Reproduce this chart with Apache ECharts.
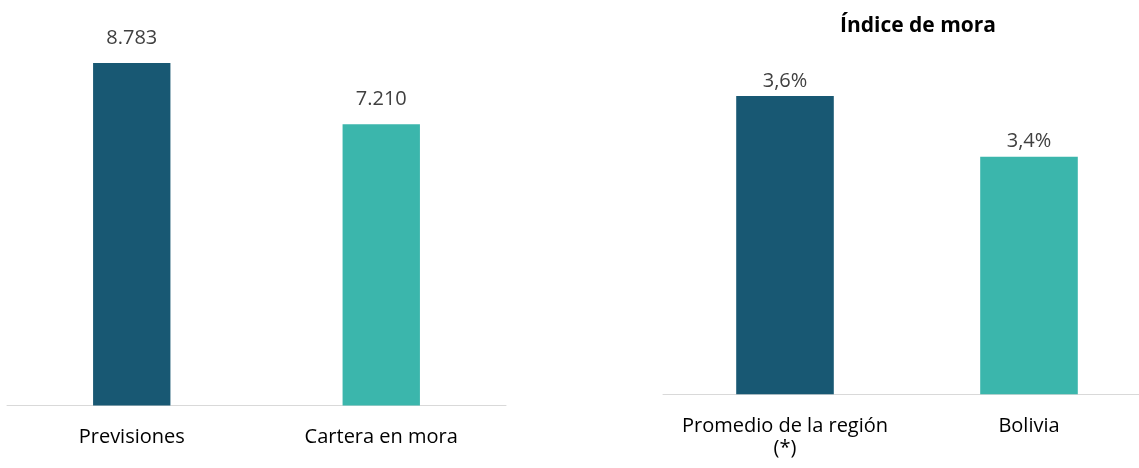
<!DOCTYPE html>
<html>
<head>
<meta charset="utf-8">
<script src="https://cdn.jsdelivr.net/npm/echarts@6/dist/echarts.min.js"></script>
<style>
  html, body { margin: 0; padding: 0; background: #fff; }
  #main { width: 1139px; height: 468px; }
</style>
</head>
<body>
<div id="main"></div>
<script>
// 数据
const leftCategories = ["Previsiones", "Cartera en mora"];
const leftValues = [8783, 7210];
const rightTitle = "Índice de mora";
const rightCategories = ["Promedio de la región\n(*)", "Bolivia"];
const rightValues = [3.6, 3.4];
const colors = ["#185873", "#3bb6ac"];

const chart = echarts.init(document.getElementById("main"));

const fontFamily = "'Open Sans', sans-serif";

// 千位分隔用点
const fmtThousands = (v) => String(v).replace(/\B(?=(\d{3})+(?!\d))/g, ".");
const fmtPercent = (v) => v.toFixed(1).replace(".", ",") + "%";

const catAxis = (gridIndex, data) => ({
  type: "category",
  gridIndex,
  data,
  axisTick: { show: false },
  axisLine: { lineStyle: { color: "#d9d9d9", width: 1 } },
  axisLabel: {
    color: "#000",
    fontSize: 20,
    fontFamily,
    margin: 21,
    lineHeight: 22,
    interval: 0,
  },
});

const option = {
  animation: false,
  title: {
    text: rightTitle,
    left: 913,
    top: 11,
    textAlign: "center",
    textStyle: { fontSize: 21, fontWeight: "bold", color: "#000", fontFamily },
  },
  grid: [
    { left: 7, width: 499, top: 15.5, bottom: 62.5, outerBoundsMode: "none" },
    { left: 663, width: 488, top: 35, bottom: 73.7, outerBoundsMode: "none" },
  ],
  xAxis: [catAxis(0, leftCategories), catAxis(1, rightCategories)],
  yAxis: [
    { type: "value", gridIndex: 0, min: 0, max: 10000, show: false, splitLine: { show: false } },
    { type: "value", gridIndex: 1, min: 2.62, max: 3.8, show: false, splitLine: { show: false } },
  ],
  series: [
    {
      type: "bar",
      xAxisIndex: 0,
      yAxisIndex: 0,
      barWidth: "31%",
      data: leftValues.map((v, i) => ({ value: v, itemStyle: { color: colors[i] } })),
      label: {
        show: true,
        position: "top",
        distance: 15,
        fontSize: 20,
        fontFamily,
        color: "#404040",
        formatter: (p) => fmtThousands(p.value),
      },
    },
    {
      type: "bar",
      xAxisIndex: 1,
      yAxisIndex: 1,
      barWidth: "40%",
      data: rightValues.map((v, i) => ({ value: v, itemStyle: { color: colors[i] } })),
      label: {
        show: true,
        position: "top",
        distance: 5,
        fontSize: 20,
        fontFamily,
        color: "#404040",
        formatter: (p) => fmtPercent(p.value),
      },
    },
  ],
};

chart.setOption(option);
</script>
</body>
</html>
